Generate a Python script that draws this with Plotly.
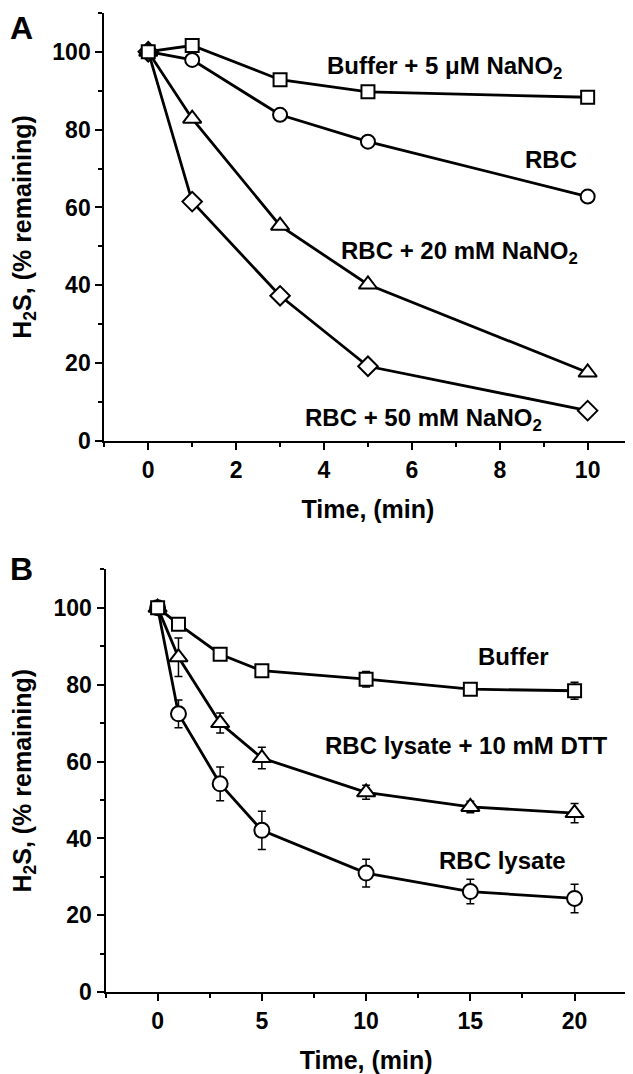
import plotly.graph_objects as go

# ---- Panel A data ----
time_a = [0, 1, 3, 5, 10]
buffer_nitrite = [100, 101.6, 92.8, 89.7, 88.3]
rbc = [100, 97.9, 83.8, 76.9, 62.8]
rbc_20mm = [100, 82.8, 55.3, 40.2, 17.6]
rbc_50mm = [100, 61.5, 37.3, 19.2, 7.8]

# ---- Panel B data ----
time_b = [0, 1, 3, 5, 10, 15, 20]
buffer_b = [100, 95.7, 87.9, 83.6, 81.4, 78.8, 78.4]
buffer_b_err = [0, 1.0, 1.0, 1.3, 2.0, 0.8, 2.2]
lysate_dtt = [100, 87.1, 70.0, 60.9, 52.0, 48.2, 46.6]
lysate_dtt_err = [0, 5.0, 2.6, 2.8, 1.8, 1.5, 2.5]
lysate = [100, 72.4, 54.2, 42.1, 31.0, 26.2, 24.4]
lysate_err = [0, 3.6, 4.4, 5.0, 3.6, 3.2, 3.7]

FONT = "Liberation Sans, Arial, sans-serif"
BLACK = "black"

# page body has an 8 px margin: work in window pixels, shifted by 8
OFF = 8
W, H = 633 - OFF, 1074 - OFF


def px(x):
    return (x - OFF) / W


def py(y):
    return 1 - (y - OFF) / H


fig = go.Figure()


def add(x, y, symbol, size, xa, ya, err=None):
    kw = {}
    if err is not None:
        kw["error_y"] = dict(type="data", array=err, visible=True, color=BLACK,
                             thickness=1.5, width=4)
    fig.add_trace(go.Scatter(
        x=x, y=y, mode="lines+markers", xaxis=xa, yaxis=ya,
        line=dict(color=BLACK, width=2.8),
        marker=dict(symbol=symbol, size=size, color="white",
                    line=dict(color=BLACK, width=2)),
        showlegend=False, **kw))


# Panel A (draw order: diamond, triangle, circle, square on top)
add(time_a, rbc_50mm, "diamond", 15, "x", "y")
add(time_a, rbc_20mm, "triangle-up", 16, "x", "y")
add(time_a, rbc, "circle", 14, "x", "y")
add(time_a, buffer_nitrite, "square", 13, "x", "y")

# Panel B
add(time_b, lysate, "circle", 15, "x2", "y2", lysate_err)
add(time_b, lysate_dtt, "triangle-up", 16, "x2", "y2", lysate_dtt_err)
add(time_b, buffer_b, "square", 13, "x2", "y2", buffer_b_err)

tickfont = dict(family=FONT, size=23, color=BLACK, weight="bold")
titlefont = dict(family=FONT, size=25, color=BLACK, weight="bold")


def xax(rng, dtick, mdtick, domain, anchor):
    return dict(range=rng, domain=domain, anchor=anchor, dtick=dtick, tick0=0,
                showline=True, linecolor=BLACK, linewidth=2, showgrid=False,
                zeroline=False, ticks="outside", ticklen=7, tickwidth=2,
                tickcolor=BLACK, tickfont=tickfont, automargin=False,
                minor=dict(dtick=mdtick, tick0=0, ticks="outside", ticklen=4,
                           tickwidth=2, tickcolor=BLACK, showgrid=False),
                title=dict(text="Time, (min)", font=titlefont, standoff=19))


def yax(domain, anchor):
    return dict(range=[0, 110], domain=domain, anchor=anchor, dtick=20, tick0=0,
                showline=True, linecolor=BLACK, linewidth=2, showgrid=False,
                zeroline=False, ticks="outside", ticklen=7, tickwidth=2,
                tickcolor=BLACK, tickfont=tickfont, automargin=False,
                minor=dict(dtick=10, tick0=0, ticks="outside", ticklen=4,
                           tickwidth=2, tickcolor=BLACK, showgrid=False),
                title=dict(text="H<sub>2</sub>S, (% remaining)", font=titlefont,
                           standoff=23))


fig.update_layout(
    width=W, height=H, margin=dict(l=0, r=0, t=0, b=0),
    paper_bgcolor="white", plot_bgcolor="white",
    font=dict(family=FONT, color=BLACK),
    xaxis=xax([-1, 11], 2, 1, [px(104.3), px(631.6)], "y"),
    yaxis=yax([py(441), py(12.8)], "x"),
    xaxis2=xax([-2.5, 22.5], 5, 2.5, [px(105.5), px(626.7)], "y2"),
    yaxis2=yax([py(992.3), py(569.2)], "x2"),
)

annfont = dict(family=FONT, size=24, color=BLACK, weight="bold")
labels_a = [
    ("Buffer + 5 μM NaNO<sub>2</sub>", 6.75, 96.0),
    ("RBC", 9.17, 72.4),
    ("RBC + 20 mM NaNO<sub>2</sub>", 7.09, 48.5),
    ("RBC + 50 mM NaNO<sub>2</sub>", 6.26, 5.5),
]
labels_b = [
    ("Buffer", 17.09, 87.4),
    ("RBC lysate + 10 mM DTT", 14.77, 64.1),
    ("RBC lysate", 16.56, 34.3),
]
for t, x, y in labels_a:
    fig.add_annotation(text=t, x=x, y=y, xref="x", yref="y", showarrow=False,
                       font=annfont, xanchor="center", yanchor="middle")
for t, x, y in labels_b:
    fig.add_annotation(text=t, x=x, y=y, xref="x2", yref="y2", showarrow=False,
                       font=annfont, xanchor="center", yanchor="middle")

panel_font = dict(family=FONT, size=32, color=BLACK, weight="bold")
fig.add_annotation(text="A", x=0, y=1, xref="paper", yref="paper",
                   showarrow=False, font=panel_font, xanchor="left", yanchor="top")
fig.add_annotation(text="B", x=0, y=py(549), xref="paper", yref="paper",
                   showarrow=False, font=panel_font, xanchor="left", yanchor="top")

fig.write_html("out.html")
